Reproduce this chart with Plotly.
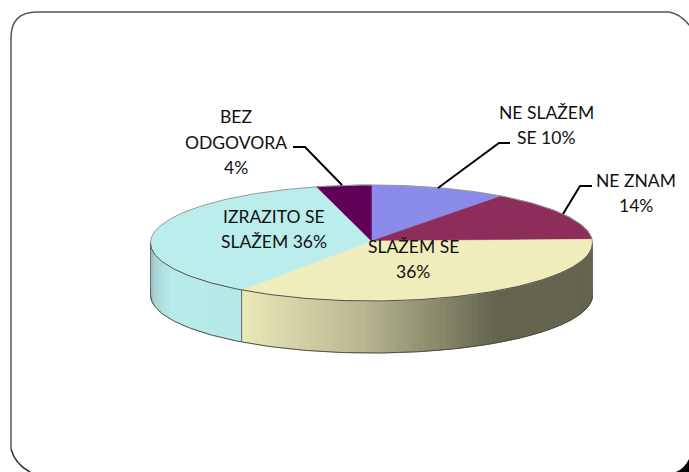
import numpy as np
import plotly.graph_objects as go

categories = ["NE SLAŽEM SE", "NE ZNAM", "SLAŽEM SE", "IZRAZITO SE SLAŽEM", "BEZ ODGOVORA"]
values = [10, 14, 36, 36, 4]
colors = ["#8B8BEB", "#8C2D5A", "#EEEDBB", "#BBEDED", "#600058"]
label_lines = [["NE SLAŽEM", "SE 10%"], ["NE ZNAM", "14%"], ["SLAŽEM SE", "36%"],
               ["IZRAZITO SE", "SLAŽEM 36%"], ["BEZ", "ODGOVORA", "4%"]]

W, H = 689, 472
CX, CY, RX, RY, DEPTH = 371.5, 243, 221, 58, 52
LABEL_POS = [(546, 112), (636, 180), (413, 246), (274, 216), (236, 116.5)]
LINE_STEP = 25.5
SHADE_X = [150, 155, 170, 243, 363, 497, 592]
SHADE_F = [0.80, 0.90, 0.99, 0.98, 0.77, 0.42, 0.42]


def px(t):
    return CX + RX * np.sin(np.radians(t))


def py(t, drop=0.0):
    return CY - RY * np.cos(np.radians(t)) + drop


def rgb(hexcol, f):
    r, g, b = [int(hexcol[i:i + 2], 16) for i in (1, 3, 5)]
    return f"rgb({r * f:.0f},{g * f:.0f},{b * f:.0f})"


total = sum(values)
edges = np.concatenate([[0], np.cumsum(values)]) * 360 / total
fig = go.Figure()


def poly(xs, ys, col, name, line_col=None, width=1):
    fig.add_trace(go.Scatter(x=list(xs), y=list(ys), mode="lines", fill="toself", fillcolor=col,
                             line=dict(color=line_col or col, width=width), name=name,
                             hoverinfo="skip", showlegend=False))


# side wall: thin strips between 90 and 270 degrees, shaded along x
for cat, col, a, b in zip(categories, colors, edges[:-1], edges[1:]):
    lo, hi = max(a, 90), min(b, 270)
    if hi <= lo:
        continue
    steps = np.linspace(lo, hi, max(2, int((hi - lo) / 1.5) + 1))
    for t0, t1 in zip(steps[:-1], steps[1:]):
        f = float(np.interp(px((t0 + t1) / 2), SHADE_X, SHADE_F))
        c = rgb(col, f)
        poly([px(t0), px(t1), px(t1), px(t0), px(t0)],
             [py(t0), py(t1), py(t1, DEPTH), py(t0, DEPTH), py(t0)], c, cat)

# top face
for cat, col, a, b in zip(categories, colors, edges[:-1], edges[1:]):
    arc = np.linspace(a, b, max(3, int(b - a) + 1))
    poly(np.r_[CX, px(arc), CX], np.r_[CY - 2, py(arc), CY - 2], col, cat, line_col=col, width=0.5)

# outlines
front = np.linspace(90, 270, 181)
back = np.linspace(-90, 90, 181)
edge = "#50504A"
fig.add_trace(go.Scatter(x=px(front), y=py(front), mode="lines", line=dict(color=edge, width=1),
                         hoverinfo="skip", showlegend=False))
fig.add_trace(go.Scatter(x=px(front), y=py(front, DEPTH), mode="lines", line=dict(color=edge, width=1),
                         hoverinfo="skip", showlegend=False))
fig.add_trace(go.Scatter(x=px(back), y=py(back), mode="lines", line=dict(color="#9A9A9A", width=1),
                         hoverinfo="skip", showlegend=False))
for t in [90, 270, edges[3]]:
    fig.add_trace(go.Scatter(x=[px(t), px(t)], y=[py(t), py(t, DEPTH)], mode="lines",
                             line=dict(color="#6A6A60", width=1), hoverinfo="skip", showlegend=False))

annotations = []
for lines, (lx, ly) in zip(label_lines, LABEL_POS):
    for i, txt in enumerate(lines):
        annotations.append(dict(x=lx, y=ly + i * LINE_STEP, text=txt, showarrow=False, xanchor="center",
                                yanchor="middle", font=dict(family="Lato", size=17.5, color="#111111")))

leader = dict(type="path", line=dict(color="#000000", width=2), layer="above")
frame = dict(type="path", line=dict(color="#555555", width=1.5), layer="above",
             path="M 11 449 L 11 38 Q 11 12 37 12 L 669 12 Q 682 14 692 29")
shapes = [
    dict(type="path", fillcolor="#000000", line=dict(width=0), layer="above",
         path="M 676 472 Q 685 468 689 459 L 689 472 Z"),
    frame,
    dict(type="path", line=dict(color="#333333", width=1.5), layer="above",
         path="M 11 449 Q 15 464 30 472"),
    dict(leader, path="M 293 147 L 305 147 L 342 185"),
    dict(leader, path="M 510 143 L 499 143 L 438 188"),
    dict(leader, path="M 592 186 L 580 186 L 563 214"),
]

fig.update_layout(
    width=W, height=H, margin=dict(l=0, r=0, t=0, b=0), paper_bgcolor="#FFFFFF", plot_bgcolor="#FFFFFF",
    xaxis=dict(range=[0, W], visible=False, fixedrange=True),
    yaxis=dict(range=[H, 0], visible=False, fixedrange=True),
    annotations=annotations, shapes=shapes, showlegend=False,
)
fig.write_html("out.html", config={"displayModeBar": False},
               post_script="document.body.style.margin='0';document.documentElement.style.overflow='hidden';")
